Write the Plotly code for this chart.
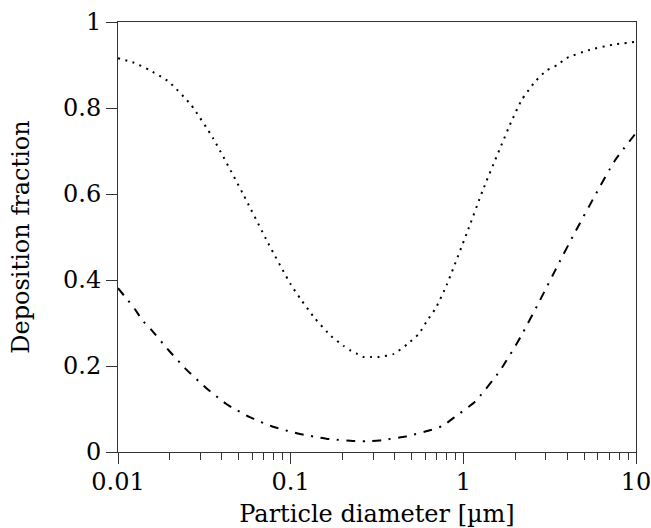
import plotly.graph_objects as go

# Upper (dotted) curve
dot_x = [0.01, 0.0124, 0.0151, 0.0197, 0.0265, 0.0355, 0.053, 0.074, 0.1, 0.114,
         0.138, 0.171, 0.202, 0.22, 0.241, 0.264, 0.293, 0.326, 0.396, 0.471, 0.553,
         0.618, 0.691, 0.80, 1.05, 1.30, 1.89, 2.18, 2.6, 3.03, 3.5, 3.96, 5.36, 7.31, 10]
dot_y = [0.916, 0.905, 0.889, 0.861, 0.807, 0.73, 0.60, 0.486, 0.39, 0.356,
         0.311, 0.27, 0.247, 0.237, 0.229, 0.221, 0.221, 0.221, 0.228, 0.25, 0.275,
         0.306, 0.334, 0.388, 0.51, 0.61, 0.767, 0.819, 0.861, 0.887, 0.90, 0.916, 0.935, 0.947, 0.954]

# Lower (dash-dot) curve
dd_x = [0.01, 0.0113, 0.01254, 0.0138, 0.0156, 0.0197, 0.025, 0.0324, 0.0426, 0.058,
        0.080, 0.113, 0.161, 0.229, 0.273, 0.326, 0.463, 0.649, 0.76, 0.882, 1.167,
        1.63, 2.156, 2.78, 3.51, 4.49, 5.78, 7.55, 10]
dd_y = [0.381, 0.355, 0.332, 0.307, 0.284, 0.236, 0.191, 0.149, 0.111, 0.081,
        0.058, 0.042, 0.031, 0.0256, 0.025, 0.027, 0.036, 0.051, 0.061, 0.080, 0.117,
        0.189, 0.269, 0.353, 0.433, 0.515, 0.596, 0.678, 0.742]

x_ticks = [0.01, 0.1, 1, 10]
x_tick_text = ["0.01", "0.1", "1", "10"]
y_ticks = [0, 0.2, 0.4, 0.6, 0.8, 1]
y_tick_text = ["0", "0.2", "0.4", "0.6", "0.8", "1"]

FONT = "DejaVu Serif"

fig = go.Figure()
fig.add_trace(go.Scatter(x=dot_x, y=dot_y, mode="lines",
                         line=dict(color="black", width=2, dash="2px,5.5px", shape="spline", smoothing=0.5),
                         showlegend=False))
fig.add_trace(go.Scatter(x=dd_x, y=dd_y, mode="lines",
                         line=dict(color="black", width=2, dash="9px,7.5px,2px,7.5px", shape="spline", smoothing=0.5),
                         showlegend=False))

fig.update_layout(
    width=651, height=528,
    margin=dict(l=118, r=15, t=22, b=76, autoexpand=False),
    paper_bgcolor="white", plot_bgcolor="white",
    font=dict(family=FONT, size=24, color="black"),
)
fig.update_xaxes(
    type="log", range=[-2, 1], automargin=False,
    tickvals=x_ticks, ticktext=x_tick_text, ticklabeloverflow="allow",
    ticks="outside", ticklen=11, tickwidth=1, tickcolor="#333",
    minor=dict(ticks="outside", ticklen=7, tickwidth=1, tickcolor="#333", dtick="D1", showgrid=False),
    showline=True, linecolor="#333", linewidth=1, mirror=True,
    showgrid=False, zeroline=False, ticklabelstandoff=-3,
    tickfont=dict(family=FONT, size=24),
    title=dict(text="Particle diameter [µm]", font=dict(family=FONT, size=24)),
)
fig.update_yaxes(
    range=[0, 1], automargin=False,
    tickvals=y_ticks, ticktext=y_tick_text, ticklabeloverflow="allow",
    ticks="outside", ticklen=11, tickwidth=1, tickcolor="#333",
    showline=True, linecolor="#333", linewidth=1, mirror=True,
    showgrid=False, zeroline=False,
    tickfont=dict(family=FONT, size=24),
    title=dict(text="Deposition fraction", font=dict(family=FONT, size=24), standoff=26),
)

fig.write_html("out.html")
